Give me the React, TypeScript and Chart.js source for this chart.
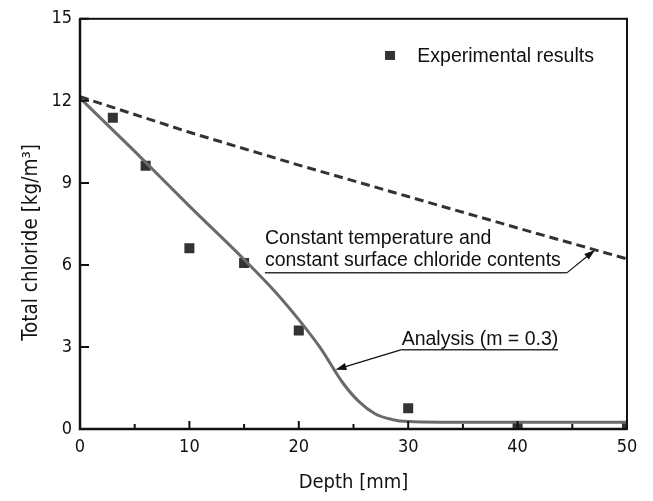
import React, { useEffect, useRef } from 'react';
import { Chart, registerables } from 'chart.js';

Chart.register(...registerables);

// ---- data ----
const expDepth = [3, 6, 10, 15, 20, 30, 40, 50];
const expChloride = [11.38, 9.63, 6.61, 6.07, 3.6, 0.76, 0.05, 0.05];

const analysisDepth = [0, 5, 10, 15, 18, 20, 22, 24, 25.5, 27, 28.5, 30, 33, 40, 50];
const analysisChloride = [12.1, 10.15, 8.15, 6.2, 4.95, 4.0, 2.95, 1.7, 1.0, 0.55, 0.35, 0.27, 0.25, 0.25, 0.25];

const constDepth = [0, 10, 20, 30, 40, 50];
const constChloride = [12.15, 10.85, 9.65, 8.5, 7.35, 6.22];

const xMajorTicks = [0, 10, 20, 30, 40, 50];
const xMinorTicks = [5, 15, 25, 35, 45];
const yMajorTicks = [0, 3, 6, 9, 12, 15];

const xTitle = 'Depth [mm]';
const yTitle = 'Total chloride [kg/m³]';
const legendLabel = 'Experimental results';
const constLabel = ['Constant temperature and', 'constant surface chloride contents'];
const analysisLabel = 'Analysis (m = 0.3)';

// annotation anchors in data units
const constTextAt = { x: 16.9, y1: 6.76, y2: 5.97, underY: 5.71, underEnd: 44.5 };
const constArrowTip = { x: 47.08, y: 6.55 };
const analysisTextAt = { x: 29.4, y: 3.08, underY: 2.9, underEnd: 43.7 };
const analysisArrowTip = { x: 23.35, y: 2.17 };
const legendAt = { markX: 28.34, markY: 13.66, textX: 30.83, textY: 13.43 };

const AXIS_FONT = "'DejaVu Sans Condensed', 'DejaVu Sans', sans-serif";
const ANNOT_FONT = "'Liberation Sans', Arial, sans-serif";

function drawArrow(ctx: CanvasRenderingContext2D, x1: number, y1: number, x2: number, y2: number) {
  const ang = Math.atan2(y2 - y1, x2 - x1);
  const len = 11;
  const half = 3.6;
  ctx.beginPath();
  ctx.moveTo(x1, y1);
  ctx.lineTo(x2 - Math.cos(ang) * len * 0.8, y2 - Math.sin(ang) * len * 0.8);
  ctx.stroke();
  ctx.beginPath();
  ctx.moveTo(x2, y2);
  ctx.lineTo(x2 - Math.cos(ang) * len + Math.sin(ang) * half, y2 - Math.sin(ang) * len - Math.cos(ang) * half);
  ctx.lineTo(x2 - Math.cos(ang) * len - Math.sin(ang) * half, y2 - Math.sin(ang) * len + Math.cos(ang) * half);
  ctx.closePath();
  ctx.fill();
}

const decorPlugin = {
  id: 'decor',
  afterDatasetsDraw(chart: any) {
    const ctx: CanvasRenderingContext2D = chart.ctx;
    const xs = chart.scales.x;
    const ys = chart.scales.y;
    const { left, right, top, bottom } = chart.chartArea;
    ctx.save();

    // frame
    ctx.strokeStyle = '#111';
    ctx.lineWidth = 2;
    ctx.strokeRect(left, top, right - left, bottom - top);
    ctx.lineWidth = 2.5;
    ctx.beginPath();
    ctx.moveTo(left, top);
    ctx.lineTo(left, bottom);
    ctx.lineTo(right, bottom);
    ctx.stroke();

    // inward ticks
    ctx.lineWidth = 2;
    ctx.beginPath();
    xMajorTicks.forEach((v) => {
      const px = xs.getPixelForValue(v);
      ctx.moveTo(px, bottom);
      ctx.lineTo(px, bottom - 8);
    });
    xMinorTicks.forEach((v) => {
      const px = xs.getPixelForValue(v);
      ctx.moveTo(px, bottom);
      ctx.lineTo(px, bottom - 5);
    });
    yMajorTicks.forEach((v) => {
      const py = ys.getPixelForValue(v);
      ctx.moveTo(left, py);
      ctx.lineTo(left + 9, py);
    });
    ctx.stroke();

    // y title
    ctx.fillStyle = '#111';
    ctx.font = `20.5px ${AXIS_FONT}`;
    ctx.textAlign = 'center';
    ctx.textBaseline = 'alphabetic';
    ctx.save();
    ctx.translate(36.5, (top + bottom) / 2 + 18.5);
    ctx.rotate(-Math.PI / 2);
    ctx.fillText(yTitle, 0, 0);
    ctx.restore();

    // legend
    ctx.fillStyle = '#333';
    const mx = xs.getPixelForValue(legendAt.markX);
    const my = ys.getPixelForValue(legendAt.markY);
    ctx.fillRect(mx - 5, my - 4.5, 10, 9);
    ctx.fillStyle = '#111';
    ctx.font = `19.5px ${ANNOT_FONT}`;
    ctx.textAlign = 'left';
    ctx.fillText(legendLabel, xs.getPixelForValue(legendAt.textX), ys.getPixelForValue(legendAt.textY));

    // constant annotation
    const cx = xs.getPixelForValue(constTextAt.x);
    ctx.fillText(constLabel[0], cx, ys.getPixelForValue(constTextAt.y1));
    ctx.fillText(constLabel[1], cx, ys.getPixelForValue(constTextAt.y2));
    ctx.strokeStyle = '#333';
    ctx.lineWidth = 1.5;
    const cuy = ys.getPixelForValue(constTextAt.underY);
    const cue = xs.getPixelForValue(constTextAt.underEnd);
    ctx.beginPath();
    ctx.moveTo(cx, cuy);
    ctx.lineTo(cue, cuy);
    ctx.stroke();
    ctx.strokeStyle = '#111';
    ctx.fillStyle = '#111';
    ctx.lineWidth = 1.2;
    drawArrow(ctx, cue, cuy, xs.getPixelForValue(constArrowTip.x), ys.getPixelForValue(constArrowTip.y));

    // analysis annotation
    const ax = xs.getPixelForValue(analysisTextAt.x);
    ctx.fillText(analysisLabel, ax, ys.getPixelForValue(analysisTextAt.y));
    ctx.strokeStyle = '#333';
    ctx.lineWidth = 1.5;
    const auy = ys.getPixelForValue(analysisTextAt.underY);
    const aue = xs.getPixelForValue(analysisTextAt.underEnd);
    ctx.beginPath();
    ctx.moveTo(ax, auy);
    ctx.lineTo(aue, auy);
    ctx.stroke();
    ctx.strokeStyle = '#111';
    ctx.lineWidth = 1.2;
    drawArrow(ctx, ax, auy, xs.getPixelForValue(analysisArrowTip.x), ys.getPixelForValue(analysisArrowTip.y));

    ctx.restore();
  },
};

export default function App() {
  const ref = useRef<HTMLCanvasElement | null>(null);
  useEffect(() => {
    if (!ref.current) return;
    const chart = new Chart(ref.current, {
      type: 'scatter',
      data: {
        datasets: [
          {
            label: 'Constant',
            type: 'line',
            data: constDepth.map((x, i) => ({ x, y: constChloride[i] })),
            borderColor: '#333',
            borderWidth: 3,
            borderDash: [9, 5],
            pointRadius: 0,
            fill: false,
            tension: 0,
          },
          {
            label: 'Analysis',
            type: 'line',
            data: analysisDepth.map((x, i) => ({ x, y: analysisChloride[i] })),
            borderColor: '#6a6a6a',
            borderWidth: 3,
            pointRadius: 0,
            fill: false,
            cubicInterpolationMode: 'monotone',
          },
          {
            label: legendLabel,
            data: expDepth.map((x, i) => ({ x, y: expChloride[i] })),
            pointStyle: 'rect',
            pointRadius: 7.1,
            pointBorderWidth: 0,
            backgroundColor: '#333',
            borderColor: '#333',
            clip: 0,
          } as any,
        ],
      },
      options: {
        responsive: false,
        devicePixelRatio: 1,
        animation: false,
        layout: { padding: { top: 15, right: 26, left: 0, bottom: 0 } },
        plugins: { legend: { display: false }, tooltip: { enabled: false } },
        scales: {
          x: {
            type: 'linear',
            min: 0,
            max: 50,
            grid: { display: false, drawTicks: false },
            border: { display: false },
            ticks: {
              stepSize: 10,
              color: '#111',
              padding: 8,
              font: { family: AXIS_FONT, size: 18 },
            },
            title: {
              display: true,
              text: xTitle,
              color: '#111',
              font: { family: AXIS_FONT, size: 20 },
              padding: { top: 0, bottom: 6 },
            },
            afterFit: (s: any) => {
              s.height = 72;
            },
          },
          y: {
            type: 'linear',
            min: 0,
            max: 15,
            grid: { display: false, drawTicks: false },
            border: { display: false },
            ticks: {
              stepSize: 3,
              color: '#111',
              padding: 8,
              font: { family: AXIS_FONT, size: 18 },
            },
            afterFit: (s: any) => {
              s.width = 80;
            },
          },
        },
      },
      plugins: [decorPlugin],
    } as any);
    return () => chart.destroy();
  }, []);
  return (
    <div style={{ position: 'fixed', left: 0, top: 0, width: 653, height: 501, background: '#fff' }}>
      <canvas ref={ref} width={653} height={501} style={{ display: 'block' }} />
    </div>
  );
}
